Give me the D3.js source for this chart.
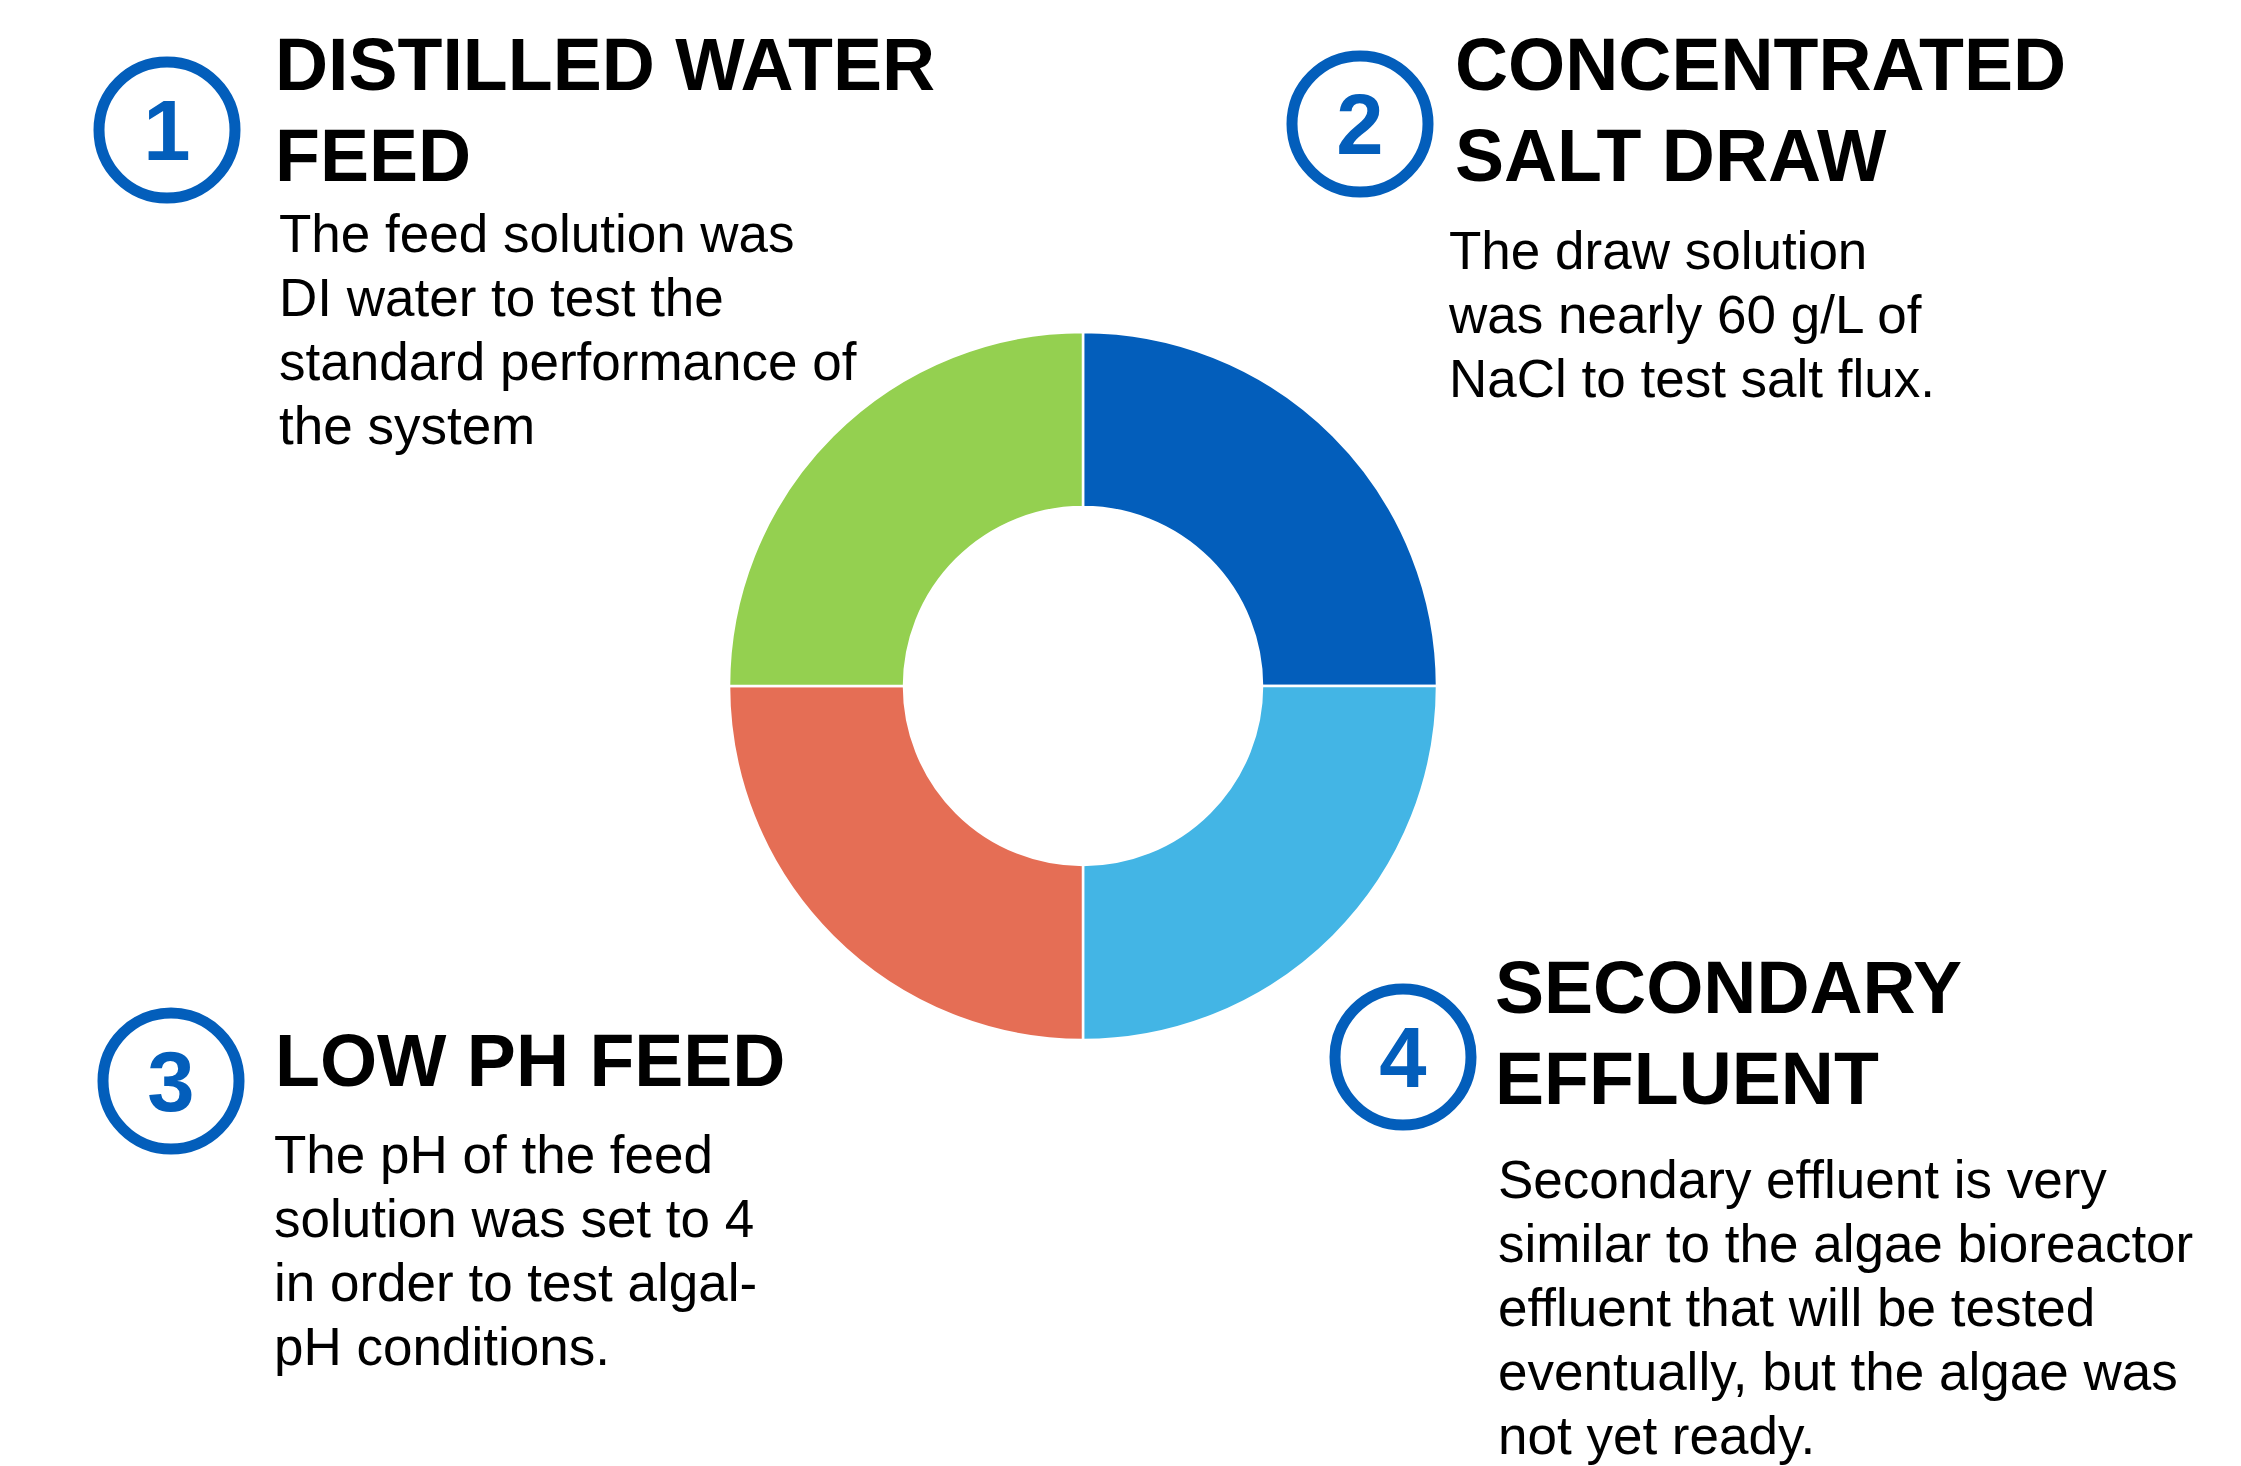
<!DOCTYPE html>
<html>
<head>
<meta charset="utf-8">
<script src="https://cdn.jsdelivr.net/npm/d3@7"></script>
<style>
  html, body { margin: 0; padding: 0; background: #fff; }
  svg text { font-family: "Liberation Sans", Arial, sans-serif; }
</style>
</head>
<body>
<div id="chart"></div>
<script>
// slices, clockwise from 12 o'clock
var sliceNames = ["Concentrated Salt Draw", "Secondary Effluent", "Low pH Feed", "Distilled Water Feed"];
var sliceValues = [25, 25, 25, 25];
var sliceColors = ["#035EBB", "#43B5E5", "#E56E55", "#94D050"];

// callouts
var numbers = ["1", "2", "3", "4"];
var titles = [
  ["DISTILLED WATER", "FEED"],
  ["CONCENTRATED", "SALT DRAW"],
  ["LOW PH FEED"],
  ["SECONDARY", "EFFLUENT"]
];
var notes = [
  ["The feed solution was", "DI water to test the", "standard performance of", "the system"],
  ["The draw solution", "was nearly 60 g/L of", "NaCl to test salt flux."],
  ["The pH of the feed", "solution was set to 4", "in order to test algal-", "pH conditions."],
  ["Secondary effluent is very", "similar to the algae bioreactor", "effluent that will be tested", "eventually, but the algae was", "not yet ready."]
];

var width = 2241, height = 1466;

var svg = d3.select("#chart").append("svg")
    .attr("width", width)
    .attr("height", height);

// donut
var pie = d3.pie().sort(null).value(function(d) { return d; });
var arc = d3.arc().innerRadius(179).outerRadius(354);
var color = d3.scaleOrdinal().domain(sliceNames).range(sliceColors);

var donut = svg.append("g")
    .attr("transform", "translate(1083,686)");

donut.selectAll("path")
    .data(pie(sliceValues))
  .enter().append("path")
    .attr("d", arc)
    .attr("fill", function(d, i) { return color(sliceNames[i]); })
    .attr("stroke", "#fff")
    .attr("stroke-width", 2.5);

// callout layout: circle centre, title x / first baseline, note x / first baseline
var layout = [
  {cx: 167, cy: 130, tx: 275, ty: 90, nx: 279, ny: 252},
  {cx: 1360, cy: 124, tx: 1455, ty: 90, nx: 1449, ny: 269},
  {cx: 171, cy: 1081, tx: 275, ty: 1086, nx: 274, ny: 1173},
  {cx: 1403, cy: 1057, tx: 1495, ty: 1013, nx: 1498, ny: 1198}
];

var callout = svg.selectAll(".callout")
    .data(numbers)
  .enter().append("g")
    .attr("class", "callout");

callout.append("circle")
    .attr("cx", function(d, i) { return layout[i].cx; })
    .attr("cy", function(d, i) { return layout[i].cy; })
    .attr("r", 68)
    .attr("fill", "none")
    .attr("stroke", "#035EBB")
    .attr("stroke-width", 11);

callout.append("text")
    .attr("x", function(d, i) { return layout[i].cx; })
    .attr("y", function(d, i) { return layout[i].cy + 30; })
    .attr("text-anchor", "middle")
    .attr("font-size", 85)
    .attr("font-weight", "bold")
    .attr("fill", "#035EBB")
    .text(function(d) { return d; });

callout.append("text")
    .attr("font-size", 73.5)
    .attr("font-weight", "bold")
    .attr("fill", "#000")
    .each(function(d, i) {
      d3.select(this).selectAll("tspan")
          .data(titles[i])
        .enter().append("tspan")
          .attr("x", layout[i].tx)
          .attr("y", function(t, j) { return layout[i].ty + j * 91; })
          .text(function(t) { return t; });
    });

callout.append("text")
    .attr("font-size", 53)
    .attr("fill", "#000")
    .each(function(d, i) {
      d3.select(this).selectAll("tspan")
          .data(notes[i])
        .enter().append("tspan")
          .attr("x", layout[i].nx)
          .attr("y", function(t, j) { return layout[i].ny + j * 64; })
          .text(function(t) { return t; });
    });
</script>
</body>
</html>
